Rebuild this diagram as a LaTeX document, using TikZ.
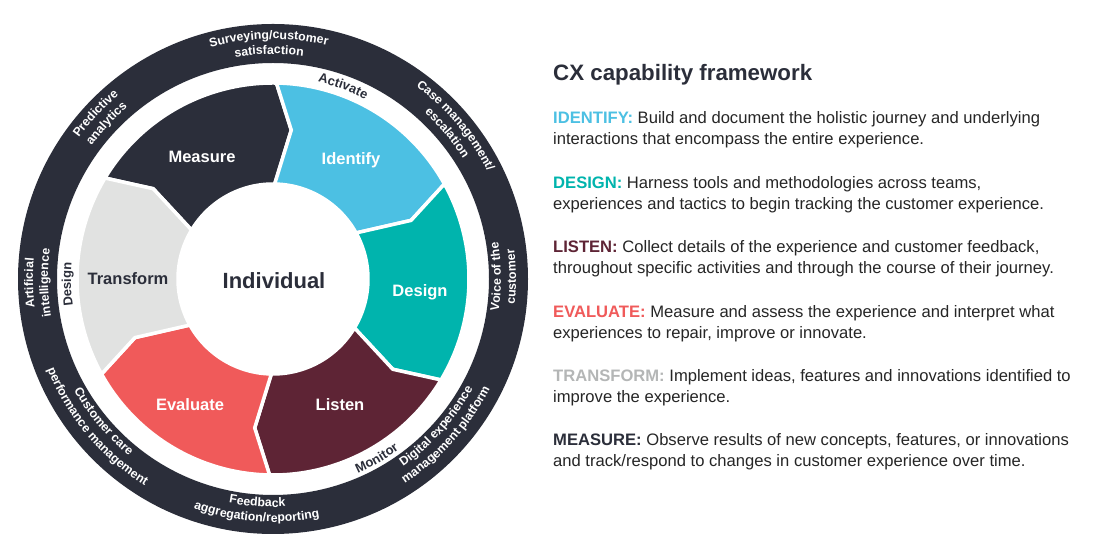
\documentclass[tikz,border=0pt]{standalone}
\usepackage{fontspec}
\setmainfont{Liberation Sans}
\usetikzlibrary{decorations.text}

\definecolor{cxdark}{HTML}{2B2E3A}
\definecolor{cxblue}{HTML}{4CC0E3}
\definecolor{cxteal}{HTML}{00B4AD}
\definecolor{cxmaroon}{HTML}{5E2435}
\definecolor{cxcoral}{HTML}{F05A5A}
\definecolor{cxgrey}{HTML}{E1E2E1}
\definecolor{cxgreytext}{HTML}{B4B6B6}
\definecolor{cxbody}{HTML}{262626}

\newcommand\ringfont{\fontsize{12.3}{12.3}\selectfont\bfseries\color{white}}
\newcommand\gapfont{\fontsize{13}{13}\selectfont\bfseries\color{cxdark}}

\tikzset{
  ringtext/.style={decorate, decoration={text along path, text align=center, text={|\ringfont|#1}}},
  gaptext/.style={decorate, decoration={text along path, text align=center, text={|\gapfont|#1}}},
  segedge/.style={draw=white, line width=3.5pt, line join=miter},
  seglabel/.style={font=\fontsize{16.5}{16.5}\selectfont\bfseries, text=white},
  heading/.style={anchor=base west, inner sep=0pt, font=\fontsize{22.3}{22.3}\selectfont\bfseries, text=cxdark},
  para/.style={anchor=base west, align=left, inner sep=0pt, font=\fontsize{16.6}{21}\selectfont, text=cxbody},
}

\begin{document}
\begin{tikzpicture}[x=1pt,y=1pt]
  \useasboundingbox (0,0) rectangle (1096,540);
  \fill[white] (0,0) rectangle (1096,540);

  % the wheel
  \begin{scope}[shift={(273,261)}]
    \fill[cxdark, even odd rule] (0,0) circle[radius=255pt] (0,0) circle[radius=216pt];

    \foreach \b/\col in {149/cxdark, 89/cxblue, 29/cxteal, -31/cxmaroon, -91/cxcoral, -151/cxgrey}{
      \pgfmathsetmacro\e{\b-60}
      \filldraw[fill=\col, segedge] (\b:196) arc[start angle=\b, end angle=\e, radius=196pt]
        -- ({\e-6}:150) -- (\e:95) arc[start angle=\e, end angle=\b, radius=95pt]
        -- ({\b-6}:150) -- cycle;
    }

    \node[seglabel] (measure) at (-71,122) {Measure};
    \node[seglabel] (identify) at (78,119) {Identify};
    \node[seglabel] (design) at (147,-13) {Design};
    \node[seglabel] (listen) at (67,-126) {Listen};
    \node[seglabel] (evaluate) at (-83,-126) {Evaluate};
    \node[seglabel, text=cxdark] (transform) at (-145,0) {Transform};
    \node[font=\fontsize{22}{22}\selectfont\bfseries, text=cxdark] (individual) at (1,-2) {Individual};

    % words in the white gap
    \path[gaptext=Activate] (110:202) arc[start angle=110, end angle=30, radius=202pt];
    \path[gaptext=Design] (221.5:202) arc[start angle=221.5, end angle=141.5, radius=202pt];
    \path[gaptext=Monitor] (-100:212) arc[start angle=-100, end angle=-20, radius=212pt];

    % outer ring, upper half
    \path[ringtext={Surveying/customer}] (131:240) arc[start angle=131, end angle=51, radius=240pt];
    \path[ringtext={satisfaction}] (131:225) arc[start angle=131, end angle=51, radius=225pt];
    \path[ringtext={Case management/}] (80:240) arc[start angle=80, end angle=0, radius=240pt];
    \path[ringtext={escalation}] (80:225) arc[start angle=80, end angle=0, radius=225pt];
    \path[ringtext={Predictive}] (177:240) arc[start angle=177, end angle=97, radius=240pt];
    \path[ringtext={analytics}] (177:225) arc[start angle=177, end angle=97, radius=225pt];
    \path[ringtext={Artificial}] (221:240) arc[start angle=221, end angle=141, radius=240pt];
    \path[ringtext={intelligence}] (221:225) arc[start angle=221, end angle=141, radius=225pt];
    % outer ring, lower half
    \path[ringtext={Voice of the}] (-39.5:228) arc[start angle=-39.5, end angle=40.5, radius=228pt];
    \path[ringtext={customer}] (-39.5:243) arc[start angle=-39.5, end angle=40.5, radius=243pt];
    \path[ringtext={Digital experience}] (-82:228) arc[start angle=-82, end angle=-2, radius=228pt];
    \path[ringtext={management platform}] (-82:243) arc[start angle=-82, end angle=-2, radius=243pt];
    \path[ringtext={Feedback}] (-134:228) arc[start angle=-134, end angle=-54, radius=228pt];
    \path[ringtext={aggregation/reporting}] (-134:243) arc[start angle=-134, end angle=-54, radius=243pt];
    \path[ringtext={Customer care}] (-180:228) arc[start angle=-180, end angle=-100, radius=228pt];
    \path[ringtext={performance management}] (-180:243) arc[start angle=-180, end angle=-100, radius=243pt];
  \end{scope}

  % the text on the right
  \node[heading] (title) at (553,459) {CX capability framework};
  \node[para] (pidentify) at (553,395) {{\bfseries\color{cxblue}IDENTIFY:} Build and document the holistic journey and underlying\\interactions that encompass the entire experience.};
  \node[para] (pdesign) at (553,330.5) {{\bfseries\color{cxteal}DESIGN:} Harness tools and methodologies across teams,\\experiences and tactics to begin tracking the customer experience.};
  \node[para] (plisten) at (553,266) {{\bfseries\color{cxmaroon}LISTEN:} Collect details of the experience and customer feedback,\\throughout specific activities and through the course of their journey.};
  \node[para] (pevaluate) at (553,201.5) {{\bfseries\color{cxcoral}EVALUATE:} Measure and assess the experience and interpret what\\experiences to repair, improve or innovate.};
  \node[para] (ptransform) at (553,137) {{\bfseries\color{cxgreytext}TRANSFORM:} Implement ideas, features and innovations identified to\\improve the experience.};
  \node[para] (pmeasure) at (553,73) {{\bfseries\color{cxdark}MEASURE:} Observe results of new concepts, features, or innovations\\and track/respond to changes in customer experience over time.};
\end{tikzpicture}
\end{document}
